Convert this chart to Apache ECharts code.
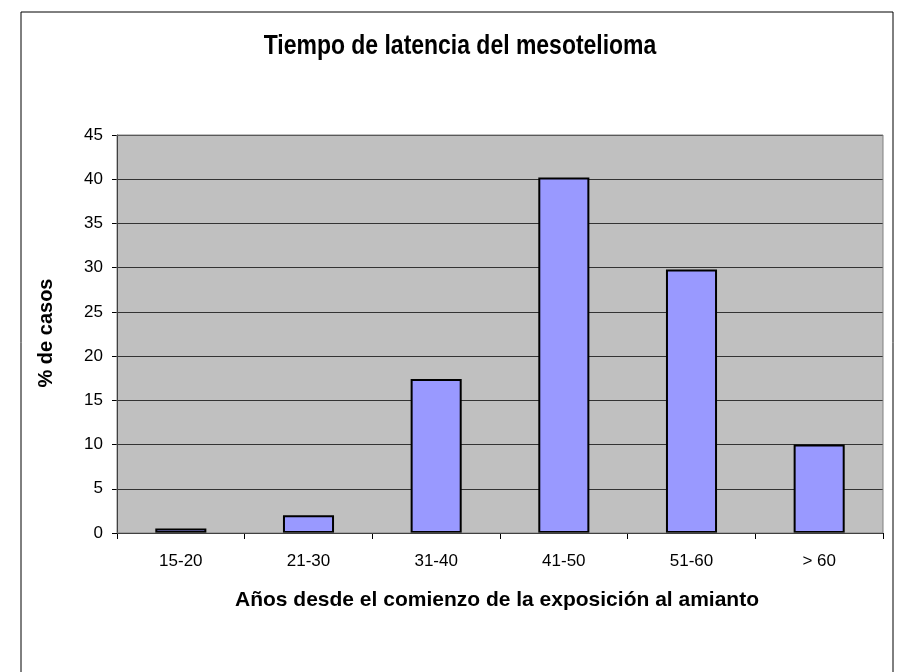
<!DOCTYPE html>
<html><head><meta charset="utf-8">
<script src="https://cdn.jsdelivr.net/npm/echarts@6/dist/echarts.min.js"></script>
<style>html,body{margin:0;padding:0;background:#fff}#c{width:906px;height:672px}</style>
</head><body><div id="c"></div>
<script>
const categories = ['15-20','21-30','31-40','41-50','51-60','> 60'];
const values = [0.5, 2, 17.4, 40.2, 29.8, 10];
const yTicks = [0,5,10,15,20,25,30,35,40,45];
const titleText = 'Tiempo de latencia del mesotelioma';
const xName = 'Años desde el comienzo de la exposición al amianto';
const yName = '% de casos';

const FONT = 'Liberation Sans, Arial, sans-serif';
const chart = echarts.init(document.getElementById('c'), null, {renderer:'canvas'});
chart.setOption({
  animation:false,
  backgroundColor:'#fff',
  graphic:[
    {type:'rect', shape:{x:21,y:12,width:872,height:700}, style:{fill:'none',stroke:'#000',lineWidth:1}, z:-10},
    {type:'text', x:460, y:46, scaleX:0.82,
     style:{text:titleText, x:0, y:0, align:'center', verticalAlign:'middle', fontFamily:FONT, fontWeight:'bold', fontSize:28, fill:'#000'}},
    {type:'text', x:497, y:600, scaleX:1,
     style:{text:xName, x:0, y:0, align:'center', verticalAlign:'middle', fontFamily:FONT, fontWeight:'bold', fontSize:21, fill:'#000'}},
    {type:'text', x:46, y:333, rotation:Math.PI/2,
     style:{text:yName, x:0, y:0, align:'center', verticalAlign:'middle', fontFamily:FONT, fontWeight:'bold', fontSize:20, fill:'#000'}},
    {type:'rect', shape:{x:117,y:135,width:766,height:398}, style:{fill:'none',stroke:'#808080',lineWidth:1}, z:5}
  ],
  grid:{left:117, right:23, top:135, bottom:139, show:true, backgroundColor:'#c0c0c0', borderWidth:0},
  xAxis:{
    type:'category', data:categories,
    axisLine:{show:true, lineStyle:{color:'#000',width:1}},
    axisTick:{show:true, alignWithLabel:false, length:6, lineStyle:{color:'#000'}},
    axisLabel:{color:'#000', fontSize:17, fontFamily:FONT, margin:20}
  },
  yAxis:{
    type:'value', min:0, max:45, interval:5,
    axisLine:{show:true, lineStyle:{color:'#000',width:1}},
    axisTick:{show:true, length:5, lineStyle:{color:'#000'}},
    axisLabel:{color:'#000', fontSize:17, fontFamily:FONT, margin:14,
      formatter:function(v){return yTicks.indexOf(v)>=0?String(v):'';}},
    splitLine:{show:true, lineStyle:{color:'#333',width:1}}
  },
  series:[{
    type:'bar', data:values, barWidth:'40%',
    itemStyle:{color:'#9999ff', borderColor:'#000', borderWidth:2}
  }]
});
</script></body></html>
